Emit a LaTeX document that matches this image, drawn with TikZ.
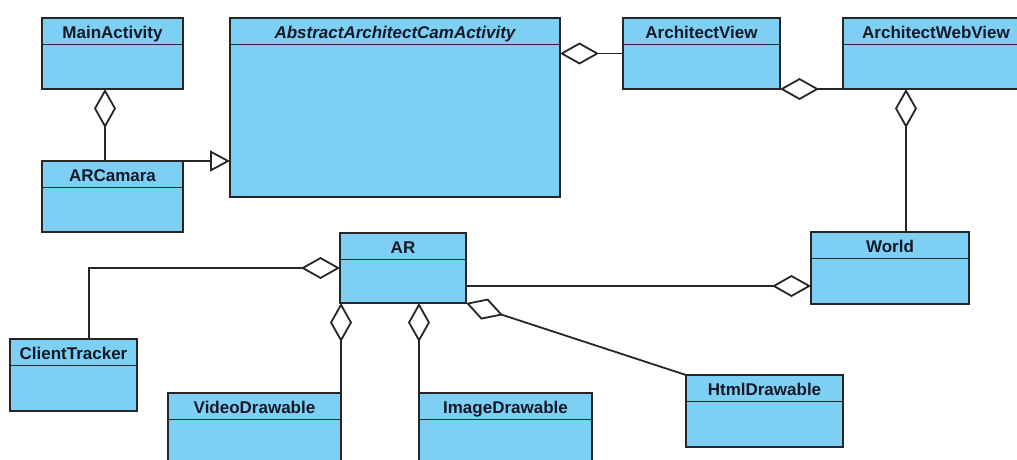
\documentclass[tikz,border=0pt]{standalone}
\usepackage{fontspec}
\setmainfont{Liberation Sans}
\usetikzlibrary{arrows.meta}

\definecolor{classfill}{HTML}{7ECFF4}
\definecolor{classedge}{HTML}{262626}
\definecolor{classtext}{HTML}{141927}

\tikzset{
  classrect/.style={draw=classedge, line width=1.8pt, fill=classfill,
    rectangle, inner sep=0pt, outer sep=0pt, anchor=north west},
  classline/.style={draw=classedge, line width=1.8pt},
  classlabel/.style={text=classtext, inner sep=0pt, anchor=base,
    font=\fontsize{17}{20}\selectfont\bfseries},
  link/.style={draw=classedge, line width=1.8pt},
  agg/.style={link, -{Diamond[length=39pt, width=22pt, fill=white, line width=1.8pt]}},
  inh/.style={link, -{Triangle[length=20pt, width=21pt, fill=white, line width=1.8pt]}},
}

% name, left, top, width, height, title
\newcommand\classbox[6]{%
  \node[classrect, minimum width=#4pt, minimum height=#5pt] (#1) at (#2,#3) {};
  \draw[classline] ([yshift=-26.5pt]#1.north west) -- ([yshift=-26.5pt]#1.north east);
  \node[classlabel] (#1-title) at ([yshift=-20.5pt]#1.north) {#6};
}

\begin{document}
\begin{tikzpicture}[x=1pt, y=-1pt]
  \useasboundingbox (0,0) rectangle (1017,459);
  \clip (0,0) rectangle (1017,459);

  % classes
  \classbox{MainActivity}{42}{18}{141}{71}{MainActivity}
  \classbox{ARCamara}{42}{161}{141}{71}{ARCamara}
  \classbox{Abstract}{230}{18}{330}{179}{\itshape AbstractArchitectCamActivity}
  \classbox{ArchitectView}{623}{18}{157}{71}{ArchitectView}
  \classbox{ArchitectWebView}{843}{18}{190}{71}{}
  \node[classlabel] (AWV-title) at (936,38.5) {ArchitectWebView};
  \classbox{World}{811}{232}{158}{72}{World}
  \classbox{AR}{340}{233}{126}{70}{AR}
  \classbox{ClientTracker}{10}{339}{127}{72}{ClientTracker}
  \classbox{VideoDrawable}{168}{393}{173}{80}{VideoDrawable}
  \classbox{ImageDrawable}{419}{393}{173}{80}{ImageDrawable}
  \classbox{HtmlDrawable}{686}{375}{157}{72}{HtmlDrawable}

  % relations
  \draw[agg] ([xshift=-7.5pt]ARCamara.north) -- ([xshift=-7.5pt]MainActivity.south);
  \draw[inh] (ARCamara.north east) -- (ARCamara.north east -| Abstract.west);
  \draw[agg] (ArchitectView.west) -- (ArchitectView.west -| Abstract.east);
  \draw[agg] (ArchitectWebView.south west) -- (ArchitectView.south east);
  \draw[agg] ([xshift=16pt]World.north) -- ([xshift=16pt]World.north |- ArchitectWebView.south);
  \draw[agg] ([xshift=15.5pt]ClientTracker.north) |- (AR.west);
  \draw[agg] (VideoDrawable.north east) -- (VideoDrawable.north east |- AR.south);
  \draw[agg] (ImageDrawable.north west) -- (ImageDrawable.north west |- AR.south);
  \draw[agg] ([yshift=-18pt]AR.east) -- ([yshift=-18pt]World.west);
  \draw[agg] (HtmlDrawable.north west) -- (AR.south east);
\end{tikzpicture}
\end{document}
